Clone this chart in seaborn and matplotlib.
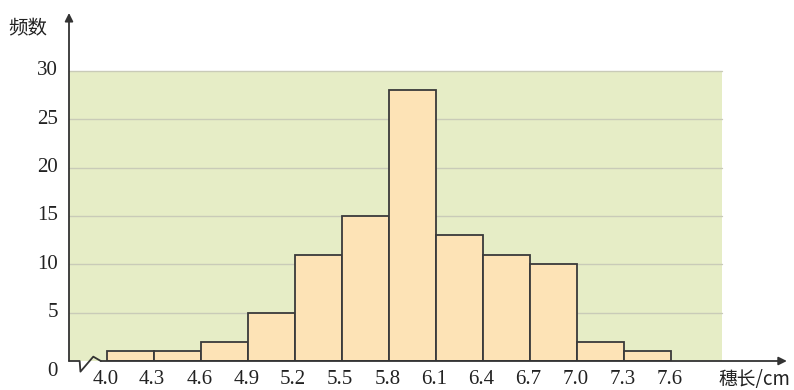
import numpy as np
import seaborn as sns
import matplotlib.pyplot as plt

bin_edges = [4.0, 4.3, 4.6, 4.9, 5.2, 5.5, 5.8, 6.1, 6.4, 6.7, 7.0, 7.3, 7.6]
counts    = [1, 1, 2, 5, 11, 15, 28, 13, 11, 10, 2, 1]
y_ticks   = [5, 10, 15, 20, 25, 30]
x_labels  = ["4.0", "4.3", "4.6", "4.9", "5.2", "5.5", "5.8", "6.1",
             "6.4", "6.7", "7.0", "7.3", "7.6"]

sns.set_style("white")
plt.rcParams['font.family'] = ['Liberation Serif', 'Noto Sans CJK SC', 'DejaVu Sans']

fig = plt.figure(figsize=(7.94, 3.9), dpi=100)
ax = fig.add_axes([69 / 794, 29 / 390, 721 / 794, 349 / 390])

x_min, x_max = 3.757, 8.358
panel_right = 7.925
ax.set_xlim(x_min, x_max)
ax.set_ylim(0, 36.1)

# green panel + grid
ax.fill_between([x_min, panel_right], 0, 30, color="#e6edc6", zorder=0, linewidth=0)
for yv in y_ticks:
    ax.plot([x_min, panel_right], [yv, yv], color="#c9cbb8", linewidth=1.0, zorder=1)

mids = [(a + b) / 2 for a, b in zip(bin_edges[:-1], bin_edges[1:])]
sns.histplot(x=mids, weights=counts, bins=bin_edges, ax=ax,
             color="#fde3b6", alpha=1, edgecolor="#3a3a3a", linewidth=1.3, zorder=3)

for s in ax.spines.values():
    s.set_visible(False)
ax.set_xticks([])
ax.set_yticks([])
ax.set_xlabel("")
ax.set_ylabel("")

# axes with arrows
ax.annotate("", xy=(x_min, 36.0), xytext=(x_min, 0), xycoords="data",
            arrowprops=dict(arrowstyle="-|>", color="#333333", lw=1.3,
                            mutation_scale=12, shrinkA=0, shrinkB=0),
            annotation_clip=False, zorder=5)
ax.annotate("", xy=(x_max - 0.02, 0), xytext=(3.96, 0), xycoords="data",
            arrowprops=dict(arrowstyle="-|>", color="#333333", lw=1.3,
                            mutation_scale=12, shrinkA=0, shrinkB=0),
            annotation_clip=False, zorder=5)
# axis break zigzag
zig_x = [x_min, 3.825, 3.83, 3.912, 3.96]
zig_y = [0, 0, -1.1, 0.45, 0]
ax.plot(zig_x, zig_y, color="#333333", linewidth=1.3, clip_on=False, zorder=5)

# tick labels
for yv in y_ticks:
    ax.text(x_min - 0.07, yv, str(yv), ha="right", va="center", fontsize=15, color="#222222")
ax.text(x_min - 0.07, -1.1, "0", ha="right", va="center", fontsize=15, color="#222222")
for xv, lab in zip(bin_edges, x_labels):
    ax.text(xv - 0.012, -1.95, lab, ha="center", va="center", fontsize=15, color="#222222")

ax.text(x_min - 0.385, 34.4, "频数", ha="left", va="center", fontsize=14,
        color="#222222", family=["Noto Sans CJK SC", "DejaVu Sans"])
ax.text(x_max + 0.005, -1.9, "穗长/cm", ha="right", va="center", fontsize=13.5,
        color="#222222", family=["Noto Sans CJK SC", "DejaVu Sans"])

fig.savefig("out.png", dpi=100)
